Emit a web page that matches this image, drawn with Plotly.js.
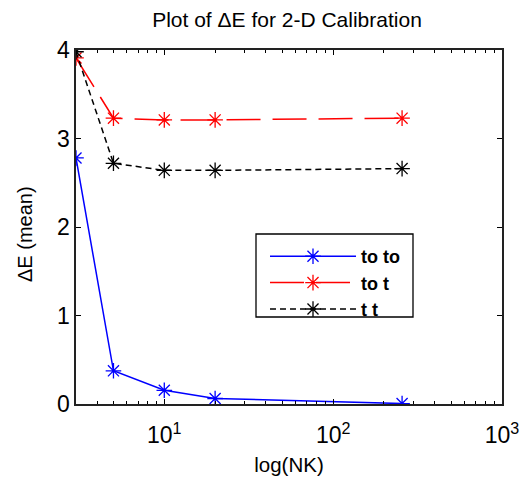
<!DOCTYPE html>
<html>
<head>
<meta charset="utf-8">
<script src="https://cdn.plot.ly/plotly-3.0.1.min.js"></script>
<style>html,body{margin:0;padding:0;background:#fff;}#chart{width:522px;height:481px;}</style>
</head>
<body>
<div id="chart"></div>
<script>
const nk = [3, 5, 10, 20, 256];
const toto = [2.78, 0.375, 0.155, 0.062, 0.005];
const tot = [3.91, 3.23, 3.21, 3.21, 3.23];
const tt = [3.98, 2.72, 2.64, 2.64, 2.66];
const seriesNames = ['to to', 'to t', 't t'];
const yTicks = [0, 1, 2, 3, 4];
const xMajor = [10, 100, 1000];
const xMajorText = ['10<sup>1</sup>', '10<sup>2</sup>', '10<sup>3</sup>'];
const xMinor = [3,4,5,6,7,8,9,20,30,40,50,60,70,80,90,200,300,400,500,600,700,800,900];

const L = 76, R = 502, T = 50, B = 404;
const px = v => (v - L) / (R - L);
const py = v => (B - v) / (B - T);

const mk = c => ({symbol: 'asterisk-open', size: 13, color: c, line: {color: c, width: 1.3}});
const traces = [
  {x: nk, y: toto, name: seriesNames[0], mode: 'lines+markers', line: {color: '#0000ff', width: 1.5}, marker: mk('#0000ff')},
  {x: nk, y: tot, name: seriesNames[1], mode: 'lines+markers', line: {color: '#ff0000', width: 1.5, dash: '34px,12px'}, marker: mk('#ff0000')},
  {x: nk, y: tt, name: seriesNames[2], mode: 'lines+markers', line: {color: '#000000', width: 1.5, dash: '6px,4px'}, marker: mk('#000000')}
];
const fam = 'Liberation Sans, Arial, sans-serif';
const layout = {
  width: 522, height: 481,
  margin: {l: L, r: 522 - R, t: T, b: 481 - B},
  paper_bgcolor: '#fff', plot_bgcolor: '#fff',
  font: {family: fam, color: '#000'},
  showlegend: true,
  title: {text: 'Plot of ΔE for 2-D Calibration', font: {size: 21, family: fam, color: '#000'}, x: 287 / 522, xanchor: 'center', xref: 'container', y: 1 - 20 / 481, yref: 'container', yanchor: 'middle'},
  xaxis: {
    type: 'log', range: [Math.log10(3), 3], automargin: false,
    tickvals: xMajor, ticktext: xMajorText,
    ticks: 'inside', ticklen: 5, tickwidth: 1, tickcolor: '#000',
    minor: {tickvals: xMinor, ticks: 'inside', ticklen: 3, tickcolor: '#000', showgrid: false},
    showline: true, linecolor: '#222', linewidth: 1.6, mirror: 'ticks',
    showgrid: false, zeroline: false,
    tickfont: {size: 23, family: fam, color: '#000'},
    ticklabelstandoff: 10,
    title: {text: 'log(NK)', font: {size: 20.5, family: fam, color: '#000'}, standoff: 10}
  },
  yaxis: {
    range: [0, 4], tickvals: yTicks, automargin: false,
    ticks: 'inside', ticklen: 5, tickwidth: 1, tickcolor: '#000',
    showline: true, linecolor: '#222', linewidth: 1.6, mirror: 'ticks',
    showgrid: false, zeroline: false,
    tickfont: {size: 23, family: fam, color: '#000'}
  },
  annotations: [{text: 'ΔE (mean)', xref: 'paper', yref: 'paper', x: px(25), y: py(234), xanchor: 'center', yanchor: 'middle', textangle: -90, showarrow: false, font: {size: 20, family: fam, color: '#000'}}],
  shapes: [{type: 'rect', xref: 'paper', yref: 'paper', x0: px(256), x1: px(413), y0: py(317), y1: py(234), fillcolor: '#fff', line: {color: '#000', width: 1.3}, layer: 'above'}],
  legend: {
    x: px(265), y: py(238), xanchor: 'left', yanchor: 'top',
    bgcolor: 'rgba(0,0,0,0)', borderwidth: 0,
    font: {size: 18, family: fam, color: '#000', weight: 'bold'},
    itemwidth: 86, tracegroupgap: 0
  }
};
Plotly.newPlot('chart', traces, layout, {displayModeBar: false, staticPlot: true});
</script>
</body>
</html>
